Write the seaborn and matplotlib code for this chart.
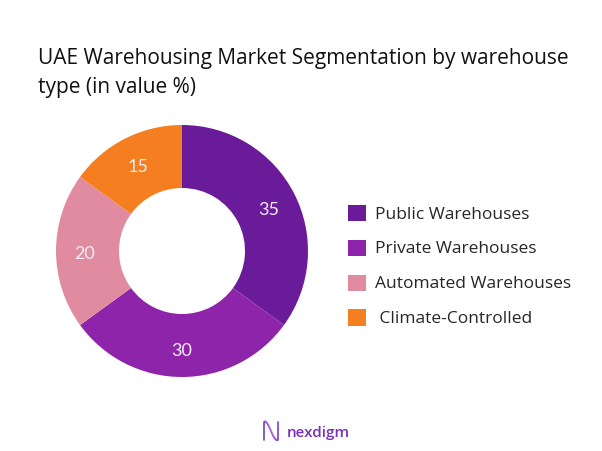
import numpy as np
import matplotlib
matplotlib.use("Agg")
import matplotlib.pyplot as plt
import seaborn as sns
from matplotlib.patches import Patch

categories = ["Public Warehouses", "Private Warehouses", "Automated Warehouses", "Climate-Controlled"]
shares = [35, 30, 20, 15]
colors = ["#6A1B9A", "#8E24AA", "#E08BA0", "#F57F20"]

sns.set_theme(style="white")
plt.rcParams["font.family"] = ["Open Sans", "DejaVu Sans"]

fig = plt.figure(figsize=(6.02, 4.51), dpi=100)
fig.patch.set_facecolor("white")

# donut axes, centred around (182, 251) px
cx, cy, half = 182, 251, 130
ax = fig.add_axes([(cx - half) / 602, (451 - cy - half) / 451, 2 * half / 602, 2 * half / 451])
r = 126 / half
wedges, texts = ax.pie(shares, colors=colors, startangle=90, counterclock=False,
                       radius=r, wedgeprops=dict(width=r * 0.5, edgecolor="none"))
ax.set_xlim(-1, 1)
ax.set_ylim(-1, 1)
ax.set_aspect("equal")
ax.axis("off")

# value labels in the ring
for w, v in zip(wedges, shares):
    mid = np.deg2rad((w.theta1 + w.theta2) / 2)
    rr = r * 0.77
    ax.text(rr * np.cos(mid), rr * np.sin(mid) - 0.02, str(v), ha="center", va="center",
            color="#F6EEF6", fontsize=13, family=["Lato", "DejaVu Sans"])

fig.text(38 / 602, 1 - 73 / 451, "UAE Warehousing Market Segmentation by warehouse\ntype (in value %)",
         ha="left", va="center", fontsize=15, color="#111111", linespacing=1.5)

handles = [Patch(facecolor=c, edgecolor="none") for c in colors]
labels = categories[:3] + [" " + categories[3]]
fig.legend(handles, labels, loc="center left", bbox_to_anchor=(332 / 602, 1 - 266 / 451),
           frameon=False, fontsize=12.5, handlelength=1.05, handleheight=1.05,
           labelspacing=0.98, handletextpad=0.55)

# logo
lx = fig.add_axes([262 / 602, 1 - 442 / 451, 18 / 602, 22 / 451])
t = np.linspace(0, 1, 50)
lx.plot(0.15 + 0.7 * t, 0.5 - 0.42 * np.sin(np.pi * (t - 0.5)), color="#7B3FC4", lw=1.2)
lx.plot(0.15 + 0.7 * t, 0.55 - 0.42 * np.sin(np.pi * (t - 0.5)), color="#C58BE0", lw=0.8)
lx.plot([0.1, 0.1], [0.1, 0.9], color="#7B3FC4", lw=1.2)
lx.plot([0.9, 0.9], [0.1, 0.9], color="#7B3FC4", lw=1.2)
lx.set_xlim(0, 1)
lx.set_ylim(0, 1)
lx.axis("off")
fig.text(287 / 602, 1 - 433 / 451, "nexdigm", ha="left", va="center", fontsize=11,
         color="#7B2FBE", fontweight="semibold")

fig.savefig("out.png", dpi=100, facecolor="white")
